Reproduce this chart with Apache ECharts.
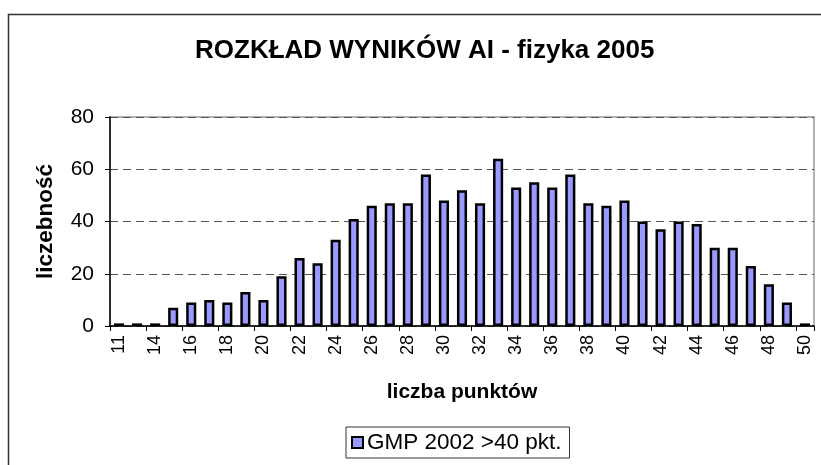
<!DOCTYPE html>
<html><head><meta charset="utf-8">
<script src="https://cdn.jsdelivr.net/npm/echarts@6/dist/echarts.min.js"></script>
<style>html,body{margin:0;padding:0;background:#fff}#c{width:821px;height:465px}</style>
</head><body><div id="c"></div>
<script>
const categories = ['11','12','14','15','16','17','18','19','20','21','22','23','24','25','26','27','28','29','30','31','32','33','34','35','36','37','38','39','40','41','42','43','44','45','46','47','48','49','50'];
const values = [1,1,1,7,9,10,9,13,10,19,26,24,33,41,46,47,47,58,48,52,47,64,53,55,53,58,47,46,48,40,37,40,39,30,30,23,16,9,1];
const yTicks = [0,20,40,60,80];
const titleText = 'ROZKŁAD WYNIKÓW AI - fizyka 2005';
const seriesName = 'GMP 2002 >40 pkt.';
const xName = 'liczba punktów';
const yName = 'liczebność';

const F = '"Liberation Sans", Arial, sans-serif';
const chart = echarts.init(document.getElementById('c'), null, {renderer:'canvas'});
chart.setOption({
  animation:false,
  backgroundColor:'#fff',
  title:{text:titleText,left:190,top:33,textStyle:{fontFamily:F,fontSize:26,fontWeight:'bold',color:'#000'}},
  graphic:[{type:'rect',shape:{x:8.5,y:14.5,width:900,height:600},style:{fill:'none',stroke:'#333',lineWidth:1.5},silent:true}],
  legend:{bottom:7,left:346,itemWidth:11,itemHeight:11,itemGap:5,padding:[4,8,4,5],
    borderColor:'#333',borderWidth:1,borderRadius:0,backgroundColor:'#fff',
    textStyle:{fontFamily:F,fontSize:22.5,color:'#000',padding:[0,0,0,-1]},
    data:[{name:seriesName,icon:'rect',itemStyle:{color:'#9999FF',borderColor:'#000',borderWidth:2}}]},
  grid:{left:110,right:7,top:117,bottom:139,show:true,borderColor:'#999',borderWidth:1.5,backgroundColor:'transparent'},
  xAxis:{type:'category',data:categories,
    name:xName,nameLocation:'middle',nameGap:56,nameTextStyle:{fontFamily:F,fontSize:21,fontWeight:'bold',color:'#000'},
    axisLine:{lineStyle:{color:'#000',width:1.5}},
    axisTick:{show:true,length:5,lineStyle:{color:'#000'}},
    axisLabel:{interval:1,rotate:90,fontFamily:F,fontSize:18,color:'#000',margin:9}},
  yAxis:{type:'value',min:0,max:80,interval:20,
    name:yName,nameLocation:'middle',nameGap:53,nameRotate:90,nameTextStyle:{fontFamily:F,fontSize:22.5,fontWeight:'bold',color:'#000'},
    axisLine:{show:true,lineStyle:{color:'#000',width:1.5}},
    axisTick:{show:true,length:5,lineStyle:{color:'#000'}},
    axisLabel:{fontFamily:F,fontSize:21,color:'#000',margin:16,
      formatter:function(v){return yTicks.indexOf(v)>=0?String(v):'';}},
    splitLine:{show:true,lineStyle:{color:'#555',type:[8,5],width:1}}},
  series:[{name:seriesName,type:'bar',data:values,barCategoryGap:'44%',
    itemStyle:{color:'#9999FF',borderColor:'#000',borderWidth:2.5}}]
});
</script></body></html>
